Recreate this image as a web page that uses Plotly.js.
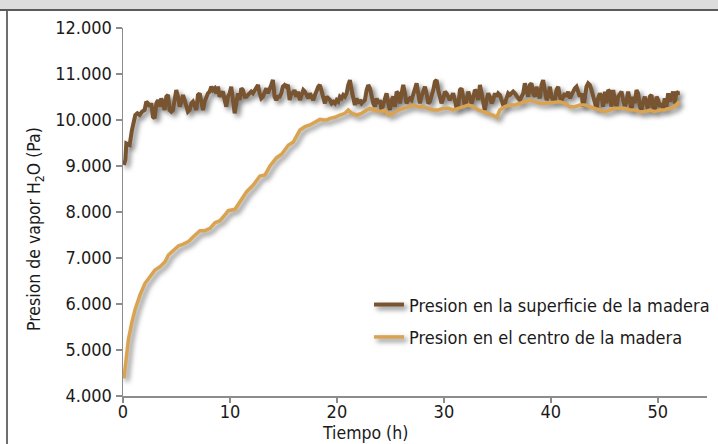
<!DOCTYPE html>
<html>
<head>
<meta charset="utf-8">
<script src="https://cdn.plot.ly/plotly-3.0.1.min.js"></script>
<style>
  html, body { margin: 0; padding: 0; background: #ffffff; overflow: hidden; width: 718px; height: 444px; }
  #wrap { position: relative; width: 718px; height: 444px; overflow: hidden; }
  #chart { position: absolute; left: 0; top: 0; width: 718px; height: 444px; }
  .deco { position: absolute; pointer-events: none; }
  #chart .scatterlayer .js-line, #chart .legend .js-line {
    filter: drop-shadow(3px 3px 2.5px rgba(0,0,0,0.5));
  }
</style>
</head>
<body>
<div id="wrap">
  <div id="chart"></div>
  <div class="deco" style="left:0;top:0;width:718px;height:9px;background:#dcdcdc;"></div>
  <div class="deco" style="left:0;top:9px;width:718px;height:2px;background:#5a5a5a;"></div>
  <div class="deco" style="left:6px;top:11px;width:2px;height:433px;background:#6e6e6e;"></div>
</div>
<script>
// Series names
const seriesNames = ["Presion en la superficie de la madera", "Presion en el centro de la madera"];

// Surface pressure (h, Pa)
const surfaceTime = [0.09,0.22,0.31,0.62,0.84,0.93,1.15,1.34,1.56,1.78,2.02,2.18,2.34,2.49,2.65,2.80,2.96,3.12,3.27,3.43,3.58,3.74,3.89,4.05,4.21,4.36,4.52,4.67,4.83,4.98,5.14,5.30,5.45,5.61,5.76,5.92,6.07,6.23,6.39,6.54,6.70,6.85,7.01,7.17,7.32,7.48,7.63,7.79,7.94,8.10,8.26,8.41,8.57,8.72,8.88,9.03,9.19,9.35,9.50,9.66,9.81,9.97,10.12,10.28,10.44,10.59,10.75,10.90,11.06,11.21,11.37,11.53,11.68,11.84,11.99,12.15,12.31,12.46,12.62,12.77,12.93,13.08,13.24,13.40,13.55,13.71,13.86,14.02,14.17,14.33,14.49,14.64,14.80,14.95,15.11,15.26,15.42,15.58,15.73,15.89,16.04,16.20,16.36,16.54,16.70,16.86,17.01,17.17,17.32,17.48,17.63,17.79,17.95,18.10,18.26,18.41,18.57,18.73,18.88,19.04,19.19,19.35,19.50,19.66,19.82,19.97,20.13,20.28,20.44,20.59,20.75,20.91,21.06,21.22,21.37,21.53,21.68,21.84,22.00,22.15,22.31,22.46,22.62,22.78,22.93,23.09,23.24,23.40,23.55,23.71,23.87,24.02,24.18,24.33,24.49,24.64,24.80,24.96,25.11,25.27,25.42,25.58,25.73,25.89,26.05,26.20,26.36,26.51,26.67,26.82,26.98,27.14,27.29,27.45,27.60,27.76,27.91,28.07,28.23,28.38,28.54,28.69,28.85,29.01,29.16,29.32,29.47,29.63,29.78,29.94,30.10,30.25,30.41,30.56,30.72,30.87,31.03,31.19,31.34,31.50,31.65,31.81,31.97,32.12,32.28,32.43,32.59,32.74,32.90,33.06,33.21,33.37,33.52,33.68,33.83,33.99,34.15,34.30,34.46,34.61,34.77,34.93,35.08,35.24,35.39,35.55,35.70,35.86,36.01,36.17,36.32,36.48,36.64,36.79,36.95,37.10,37.26,37.42,37.57,37.73,37.88,38.04,38.19,38.35,38.51,38.66,38.82,38.97,39.13,39.28,39.44,39.60,39.75,39.91,40.06,40.22,40.37,40.53,40.69,40.84,41.00,41.15,41.31,41.47,41.62,41.78,41.93,42.09,42.24,42.40,42.56,42.71,42.87,43.02,43.18,43.33,43.49,43.65,43.80,43.96,44.11,44.27,44.42,44.58,44.74,44.89,45.05,45.20,45.36,45.51,45.67,45.83,45.98,46.14,46.29,46.45,46.61,46.76,46.92,47.07,47.23,47.38,47.54,47.70,47.85,48.01,48.16,48.32,48.47,48.63,48.79,48.94,49.10,49.25,49.41,49.56,49.72,49.88,50.03,50.19,50.34,50.50,50.65,50.81,50.97,51.12,51.28,51.43,51.59,51.74,51.90,52.06];
const surfacePressure = [9022,9130,9493,9457,9783,9891,10109,10145,10109,10181,10217,10399,10362,10290,10362,10072,10036,10362,10435,10290,10471,10362,10217,10507,10543,10217,10181,10217,10435,10652,10507,10290,10399,10543,10435,10254,10181,10217,10362,10399,10290,10217,10543,10580,10399,10217,10399,10507,10580,10616,10725,10652,10688,10580,10725,10507,10580,10616,10435,10290,10507,10580,10725,10435,10145,10362,10580,10435,10688,10652,10507,10507,10543,10580,10616,10580,10652,10725,10761,10580,10471,10507,10580,10688,10580,10652,10761,10870,10507,10435,10507,10507,10580,10725,10761,10725,10761,10435,10580,10580,10652,10507,10616,10434,10579,10652,10616,10507,10471,10579,10507,10434,10543,10652,10724,10761,10616,10434,10362,10507,10471,10434,10362,10398,10362,10434,10398,10507,10471,10543,10507,10579,10761,10869,10652,10434,10326,10471,10362,10434,10362,10398,10434,10652,10761,10688,10507,10362,10290,10471,10362,10434,10217,10362,10471,10579,10362,10217,10434,10507,10290,10616,10579,10362,10579,10761,10579,10362,10434,10471,10434,10579,10724,10797,10579,10362,10507,10616,10724,10579,10362,10398,10507,10652,10833,10869,10652,10507,10362,10471,10616,10579,10507,10434,10507,10579,10434,10253,10290,10652,10688,10434,10290,10434,10616,10507,10362,10471,10652,10616,10434,10761,10579,10290,10217,10434,10579,10507,10362,10434,10579,10507,10579,10543,10434,10326,10362,10507,10579,10543,10579,10616,10579,10507,10471,10434,10507,10579,10797,10652,10507,10761,10797,10579,10507,10724,10579,10471,10761,10869,10652,10434,10507,10724,10507,10434,10434,10652,10724,10507,10434,10507,10579,10507,10616,10471,10543,10652,10688,10724,10616,10507,10579,10290,10471,10724,10797,10761,10652,10507,10362,10253,10471,10579,10507,10290,10616,10362,10652,10616,10290,10652,10434,10290,10507,10579,10616,10434,10290,10398,10616,10434,10217,10507,10362,10652,10579,10290,10217,10398,10507,10362,10217,10507,10543,10290,10217,10507,10434,10290,10362,10253,10471,10290,10579,10398,10507,10616,10362,10616,10579,10579];

// Centre pressure (h, Pa)
const centerTime = [0.09,0.28,0.50,0.81,1.12,1.59,2.06,2.52,2.99,3.46,3.93,4.24,4.70,5.17,5.64,6.11,6.57,7.20,7.66,8.13,8.60,9.07,9.53,9.84,10.47,10.93,11.56,12.18,12.80,13.27,13.74,14.36,14.83,15.45,15.92,16.54,17.01,17.48,17.95,18.41,18.73,19.04,19.35,19.82,20.28,20.75,21.06,21.37,21.84,22.31,22.78,23.09,23.55,24.02,24.49,24.80,25.27,25.73,26.20,26.67,27.14,27.60,28.07,28.54,29.01,29.47,29.94,30.41,30.87,31.34,31.81,32.28,32.74,33.21,33.68,34.15,34.61,34.95,35.23,35.70,36.17,36.64,37.10,37.57,38.04,38.51,38.97,39.44,39.91,40.37,40.84,41.31,41.78,42.24,42.71,43.18,43.65,44.11,44.58,45.05,45.51,45.98,46.45,46.92,47.38,47.85,48.32,48.79,49.25,49.72,50.19,50.65,51.12,51.59,51.90,52.06];
const centerPressure = [4384,4855,5217,5580,5870,6196,6450,6594,6739,6812,6920,7065,7174,7261,7304,7355,7464,7594,7594,7645,7768,7811,7935,8029,8058,8224,8442,8587,8783,8804,9000,9181,9254,9450,9522,9782,9855,9891,9964,10014,10000,10000,10036,10058,10108,10145,10217,10145,10108,10145,10217,10253,10217,10181,10217,10108,10145,10217,10253,10290,10326,10290,10290,10253,10217,10217,10253,10253,10217,10253,10290,10326,10290,10217,10181,10145,10100,10060,10217,10290,10326,10326,10362,10398,10434,10398,10362,10362,10377,10398,10398,10362,10290,10290,10326,10326,10290,10253,10217,10181,10217,10253,10253,10253,10217,10217,10181,10181,10217,10181,10217,10217,10253,10290,10377,10362];

// Axis ticks
const xTicks = [0, 10, 20, 30, 40, 50];
const yTicks = [4000, 5000, 6000, 7000, 8000, 9000, 10000, 11000, 12000];

const FONT = "'Liberation Sans Narrow', 'DejaVu Sans Condensed', 'Liberation Sans', sans-serif";
const AXIS_COLOR = "#8c8c8c";

const traces = [
  {
    x: surfaceTime, y: surfacePressure, name: seriesNames[0], type: "scatter", mode: "lines",
    line: { color: "#785430", width: 4 }, legendgroup: "a"
  },
  {
    x: centerTime, y: centerPressure, name: seriesNames[1], type: "scatter", mode: "lines",
    line: { color: "#d9a34f", width: 3.5 }, legendgroup: "b"
  }
];

const layout = {
  width: 718, height: 444,
  margin: { l: 123, r: 11, t: 28, b: 48, pad: 0, autoexpand: false },
  paper_bgcolor: "#ffffff", plot_bgcolor: "#ffffff",
  separators: ",.",
  font: { family: FONT, size: 17, color: "#1a1a1a" },
  showlegend: true,
  legend: {
    x: 0.4212, xanchor: "left", y: 0.298, yanchor: "top",
    bgcolor: "rgba(0,0,0,0)", borderwidth: 0,
    font: { family: FONT, size: 18, color: "#1a1a1a" },
    traceorder: "grouped", tracegroupgap: 6
  },
  xaxis: {
    range: [0, 54.6], tickvals: xTicks, showgrid: false, zeroline: false,
    showline: true, linecolor: AXIS_COLOR, linewidth: 1.5,
    ticks: "outside", ticklen: 5, tickcolor: AXIS_COLOR, tickwidth: 1.5,
    ticklabelstandoff: -6,
    tickfont: { family: FONT, size: 18, color: "#1a1a1a" }
  },
  yaxis: {
    range: [4000, 12000], tickvals: yTicks, tickformat: ",.0f", showgrid: false, zeroline: false,
    showline: true, linecolor: AXIS_COLOR, linewidth: 1.5,
    ticks: "outside", ticklen: 6, tickcolor: AXIS_COLOR, tickwidth: 1.5,
    ticklabelstandoff: 0,
    tickfont: { family: FONT, size: 18, color: "#1a1a1a" }
  },
  annotations: [
    {
      text: "Tiempo (h)", xref: "paper", yref: "paper", x: 0.414, y: -0.1,
      xanchor: "center", yanchor: "middle", showarrow: false,
      font: { family: FONT, size: 17.5, color: "#1a1a1a" }
    },
    {
      text: "Presion de vapor H<sub>2</sub>O (Pa)", xref: "paper", yref: "paper", x: -0.149, y: 0.454,
      xanchor: "center", yanchor: "middle", showarrow: false, textangle: -90,
      font: { family: FONT, size: 17.5, color: "#1a1a1a" }
    }
  ]
};

Plotly.newPlot("chart", traces, layout, { staticPlot: true, displayModeBar: false });
</script>
</body>
</html>
